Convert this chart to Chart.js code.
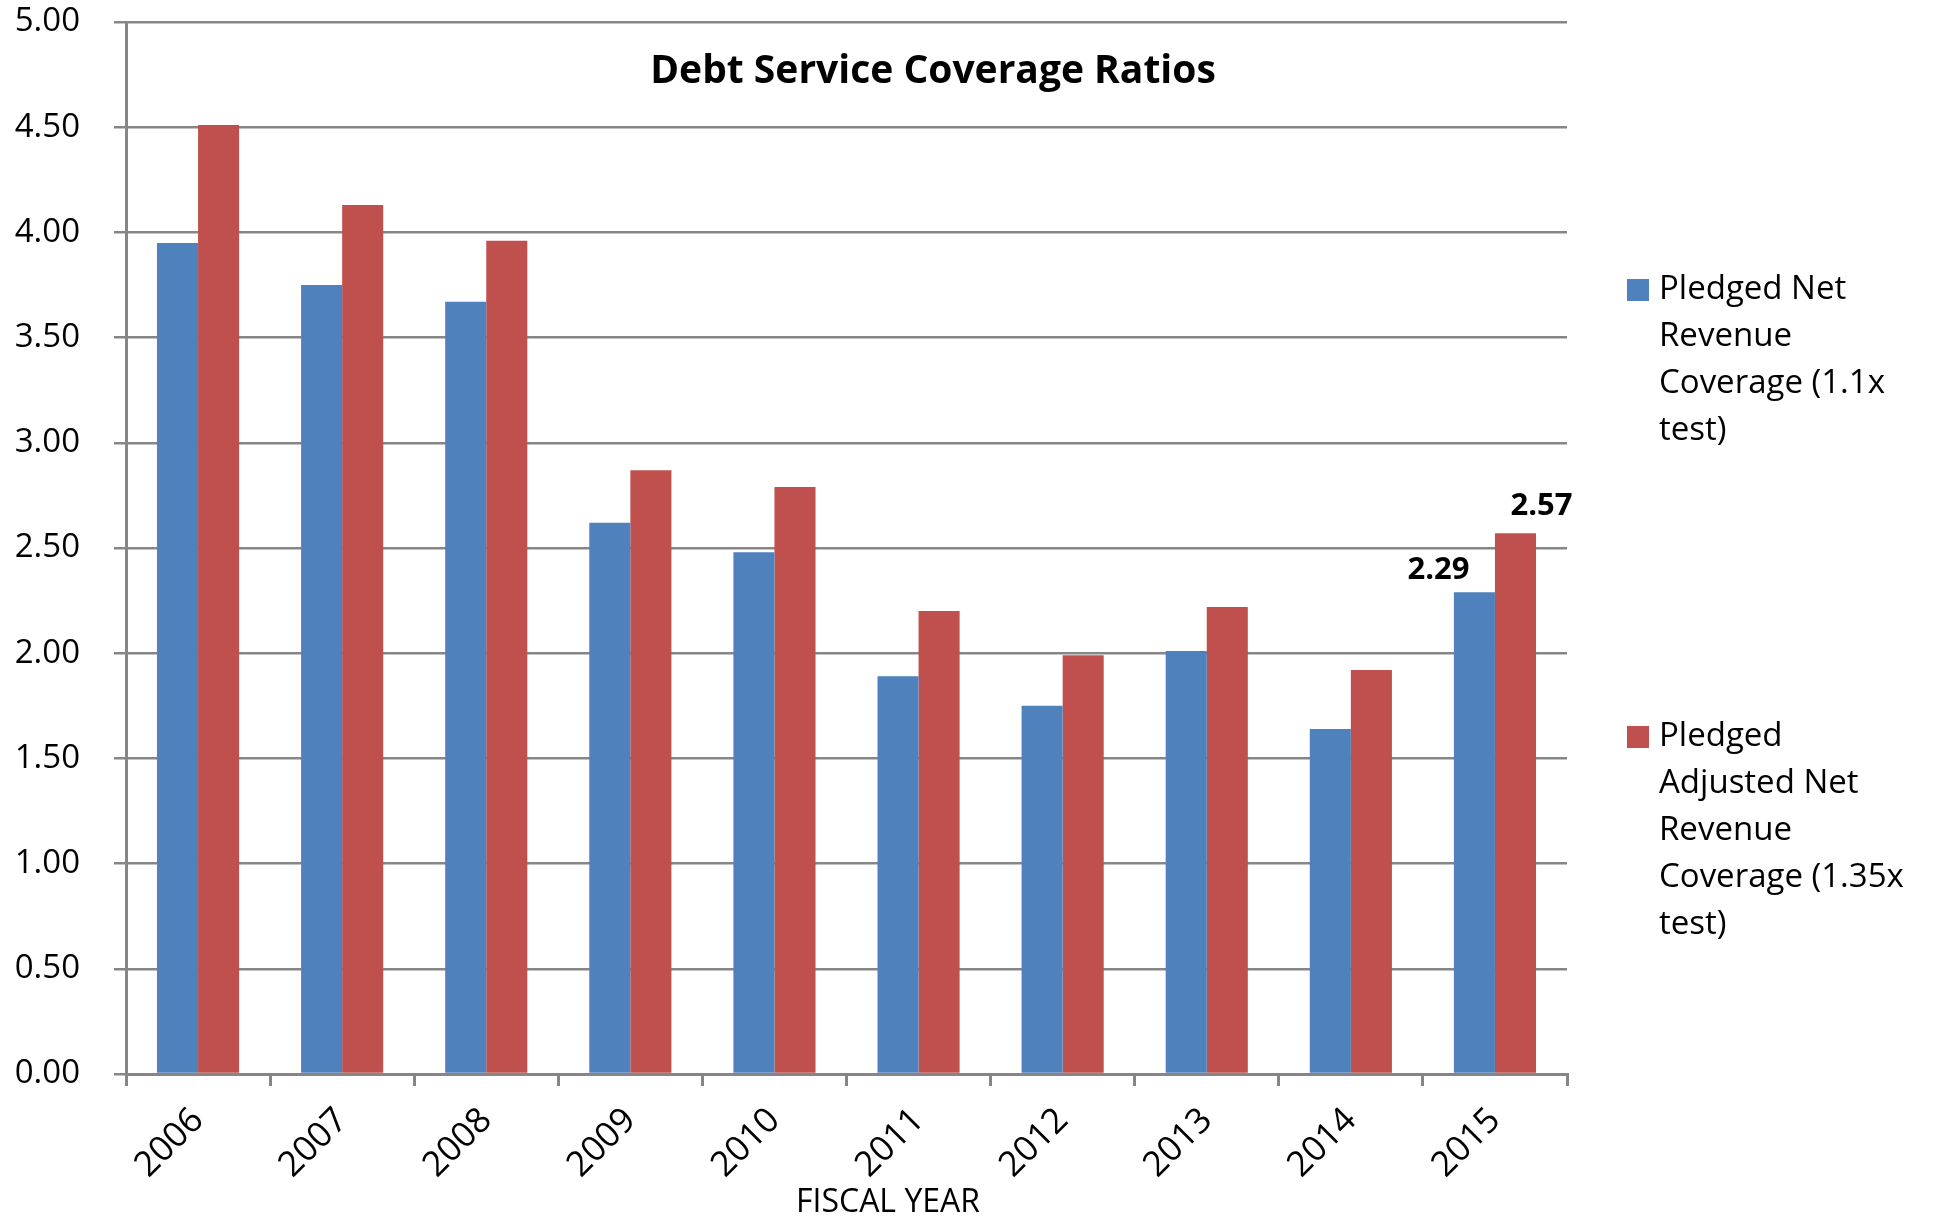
<!DOCTYPE html>
<html>
<head>
<meta charset="utf-8">
<script src="https://cdn.jsdelivr.net/npm/chart.js@4"></script>
<style>
  body { margin: 0; background: #fff; }
  canvas { display: block; }
</style>
</head>
<body>
<canvas id="dscrCanvas" width="1936" height="1223"></canvas>
<script>
// fiscal years and coverage ratios
var years = ['2006', '2007', '2008', '2009', '2010', '2011', '2012', '2013', '2014', '2015'];
var netRevenue = [3.95, 3.75, 3.67, 2.62, 2.48, 1.89, 1.75, 2.01, 1.64, 2.29];
var adjNetRevenue = [4.51, 4.13, 3.96, 2.87, 2.79, 2.20, 1.99, 2.22, 1.92, 2.57];
var netLabels = [null, null, null, null, null, null, null, null, null, '2.29'];
var adjLabels = [null, null, null, null, null, null, null, null, null, '2.57'];
var yTicks = [0, 0.5, 1, 1.5, 2, 2.5, 3, 3.5, 4, 4.5, 5];

var netLegend = ['Pledged Net', 'Revenue', 'Coverage (1.1x', 'test)'];
var adjLegend = ['Pledged', 'Adjusted Net', 'Revenue', 'Coverage (1.35x', 'test)'];

var FONT = '"Open Sans", "DejaVu Sans", sans-serif';
var GRID = '#868686';

// title, axis title, legend and the two value labels drawn by hand
var extras = {
	id: 'extras',
	afterDraw: function(chart) {
		var c = chart.ctx;
		c.save();
		c.fillStyle = '#000';

		c.font = 'bold 39px ' + FONT;
		c.textAlign = 'center';
		c.textBaseline = 'middle';
		c.fillText('Debt Service Coverage Ratios', 933, 72);

		c.font = '32px ' + FONT;
		c.fillText('FISCAL YEAR', 888, 1203);

		// value labels over the 2015 bars
		c.font = 'bold 31px ' + FONT;
		var sets = [[netLabels, -36, 22], [adjLabels, 26, 27]];
		sets.forEach(function(s, di) {
			var meta = chart.getDatasetMeta(di);
			s[0].forEach(function(txt, i) {
				if (!txt) return;
				var bar = meta.data[i];
				c.fillText(txt, bar.x + s[1], bar.y - s[2]);
			});
		});

		// legend
		var blocks = [[netLegend, 290], [adjLegend, 737]];
		c.font = '33px ' + FONT;
		c.textAlign = 'left';
		blocks.forEach(function(b, di) {
			c.fillStyle = chart.data.datasets[di].backgroundColor;
			c.fillRect(1627, b[1] - 11, 22, 22);
			c.fillStyle = '#000';
			b[0].forEach(function(line, k) {
				c.fillText(line, 1659, b[1] + k * 47);
			});
		});
		c.restore();
	}
};

var ctx = document.getElementById('dscrCanvas').getContext('2d');
var chart = new Chart(ctx, {
	type: 'bar',
	data: {
		labels: years,
		datasets: [{
			label: netLegend.join(' '),
			data: netRevenue,
			backgroundColor: '#4F81BD',
		}, {
			label: adjLegend.join(' '),
			data: adjNetRevenue,
			backgroundColor: '#C0504D',
		}],
	},
	plugins: [extras],
	options: {
		responsive: false,
		animation: false,
		layout: { padding: { left: 0, right: 369, top: 22, bottom: 0 } },
		datasets: { bar: { categoryPercentage: 0.57, barPercentage: 1 } },
		plugins: {
			legend: { display: false },
			tooltip: { enabled: false },
		},
		scales: {
			x: {
				afterFit: function(s) { s.height = 149; },
				border: { color: GRID, width: 3 },
				grid: { offset: true, drawOnChartArea: false, drawTicks: true, tickLength: 12, color: GRID, lineWidth: 3 },
				ticks: { color: '#000', font: { family: FONT, size: 35 }, minRotation: 45, maxRotation: 45, padding: 14 },
			},
			y: {
				min: 0,
				max: 5,
				afterFit: function(s) {
					s.width = 126;
					s.paddingTop = 0;
					s.paddingBottom = 0;
				},
				afterBuildTicks: function(s) { s.ticks = yTicks.map(function(v) { return { value: v }; }); },
				border: { color: GRID, width: 3 },
				grid: { color: GRID, lineWidth: 2.5, tickLength: 12 },
				ticks: {
					color: '#000',
					padding: 34,
					font: { family: FONT, size: 33 },
					callback: function(v) { return Number(v).toFixed(2); },
				},
			},
		},
	},
});
</script>
</body>
</html>
